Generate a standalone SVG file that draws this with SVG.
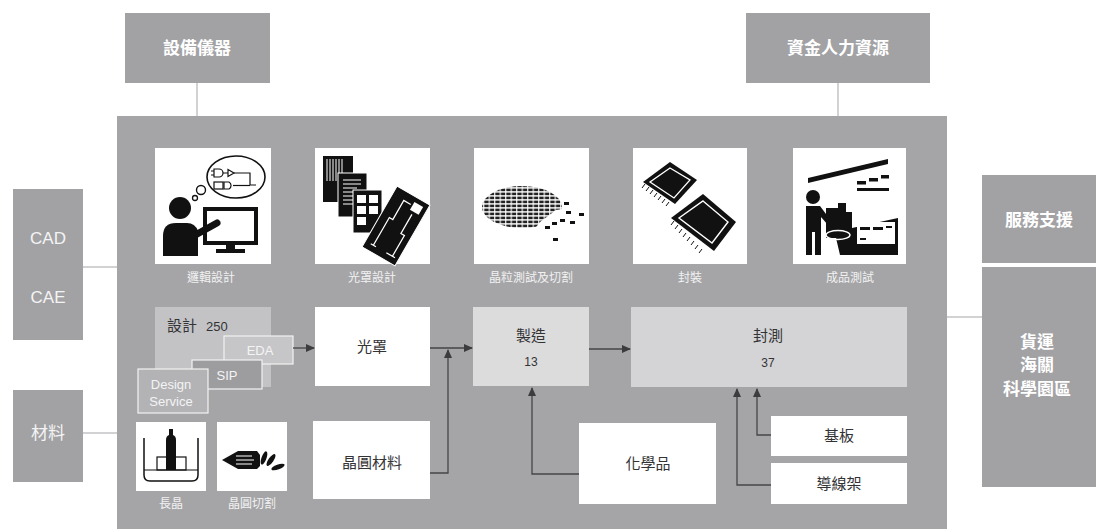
<svg xmlns="http://www.w3.org/2000/svg" width="1096" height="529" viewBox="0 0 1096 529">
  <style>
    .outer { fill: #a2a2a5; }
    .panel { fill: #a5a5a8; }
    .white { fill: #ffffff; }
    .link { stroke: #d2d2d4; stroke-width: 2; fill: none; }
    .flow { stroke: #454547; stroke-width: 1.3; fill: none; }
    .cjk { font-family: "Noto Sans CJK TC", "Noto Sans", sans-serif; }
    .lat { font-family: "Liberation Sans", Arial, sans-serif; }
    .head { fill: #ffffff; font-size: 17px; font-weight: bold; text-anchor: middle; }
    .side { fill: #f4f4f4; font-size: 17px; text-anchor: middle; }
    .cap { fill: #f2f2f2; font-size: 12px; text-anchor: middle; }
    .lbl { fill: #333335; font-size: 15px; text-anchor: middle; }
    .num { fill: #333335; font-size: 12px; text-anchor: middle; }
    .ink { fill: #111111; }
  </style>
  <defs>
    <marker id="arrow" markerWidth="9" markerHeight="8" refX="8" refY="4" orient="auto" markerUnits="userSpaceOnUse">
      <path d="M0,0 L9,4 L0,8 z" fill="#3c3c3e"/>
    </marker>
    <pattern id="dice" width="5.5" height="4" patternUnits="userSpaceOnUse">
      <rect x="0.3" y="0.6" width="4.4" height="2.6" fill="#222"/>
    </pattern>
    <clipPath id="waferCut">
      <path d="M470,180 H600 V203 L556,210 L540,222 L530,235 H470 Z"/>
    </clipPath>
  </defs>

  <!-- outer resource boxes and their links to the main panel -->
  <g id="links">
    <line class="link" x1="197" y1="83" x2="197" y2="117"/>
    <line class="link" x1="838" y1="83" x2="838" y2="117"/>
    <line class="link" x1="83" y1="267" x2="117" y2="267"/>
    <line class="link" x1="83" y1="433" x2="117" y2="433"/>
    <line class="link" x1="947" y1="317" x2="982" y2="317"/>
  </g>

  <g id="equipment">
    <rect class="outer" x="125" y="13" width="145" height="70"/>
    <text class="cjk head" x="197" y="54">設備儀器</text>
  </g>
  <g id="funding">
    <rect class="outer" x="746" y="13" width="184" height="70"/>
    <text class="cjk head" x="838" y="54">資金人力資源</text>
  </g>
  <g id="cad-cae">
    <rect class="outer" x="13" y="189" width="70" height="151"/>
    <text class="lat side" x="48" y="244">CAD</text>
    <text class="lat side" x="48" y="303">CAE</text>
  </g>
  <g id="materials">
    <rect class="outer" x="13" y="390" width="70" height="92"/>
    <text class="cjk side" x="48" y="439">材料</text>
  </g>
  <g id="services">
    <rect class="outer" x="982" y="175" width="114" height="88"/>
    <text class="cjk head" x="1039" y="226">服務支援</text>
  </g>
  <g id="logistics">
    <rect class="outer" x="982" y="267" width="114" height="220"/>
    <text class="cjk head" x="1037" y="348">貨運</text>
    <text class="cjk head" x="1037" y="371">海關</text>
    <text class="cjk head" x="1037" y="395">科學園區</text>
  </g>

  <!-- main industry panel -->
  <g id="panel">
    <rect class="panel" x="117" y="116" width="830" height="413"/>
  </g>

  <!-- stage icons -->
  <g id="icon-logic">
    <rect class="white" x="155" y="148" width="116" height="116"/>
    <ellipse cx="236" cy="177" rx="29" ry="21" fill="#fff" stroke="#111" stroke-width="1.6"/>
    <circle cx="201" cy="190" r="4.5" fill="#fff" stroke="#111" stroke-width="1.4"/>
    <circle cx="195" cy="198" r="2.5" fill="#fff" stroke="#111" stroke-width="1.3"/>
    <g stroke="#111" stroke-width="1.2" fill="none">
      <path d="M214,169 h5 a4,4 0 0 1 0,8 h-5 z"/>
      <path d="M211,171 h3 M211,175 h3 M223,173 h5"/>
      <path d="M228,169.5 l6,3.5 l-6,3.5 z"/>
      <path d="M234,173 h16 v12 h6"/>
      <rect x="214" y="182" width="9" height="7"/>
      <path d="M224,182 h5 a4,4 0 0 1 0,7 h-5 z"/>
      <path d="M233,185.5 h17"/>
    </g>
    <circle class="ink" cx="180" cy="208" r="11"/>
    <path class="ink" d="M163,256 V236 Q163,223 176,223 H187 Q195,223 198,231 L198,256 Z"/>
    <line x1="190" y1="238" x2="217" y2="223" stroke="#111" stroke-width="7" stroke-linecap="round"/>
    <rect x="205" y="209" width="51" height="34" fill="none" stroke="#111" stroke-width="4"/>
    <rect class="ink" x="226" y="244" width="9" height="6"/>
    <rect class="ink" x="216" y="249" width="29" height="4"/>
    <text class="cjk cap" x="211" y="282">邏輯設計</text>
  </g>

  <g id="icon-mask">
    <rect class="white" x="315" y="148" width="115" height="116"/>
    <rect class="ink" x="323" y="156" width="30" height="46"/>
    <g stroke="#fff" stroke-width="1">
      <path d="M327,159 v22 M330,159 v22 M333,159 v22 M336,159 v22 M339,159 v22 M342,159 v22"/>
    </g>
    <rect class="ink" x="338" y="173" width="29" height="44" stroke="#fff" stroke-width="1"/>
    <g stroke="#fff" stroke-width="1">
      <path d="M343,180 h18 M343,184 h18 M343,188 h14 M343,192 h18 M343,196 h12 M343,200 h18 M343,204 h10"/>
    </g>
    <rect class="ink" x="353" y="190" width="29" height="43" stroke="#fff" stroke-width="1"/>
    <g fill="#fff">
      <rect x="357" y="195" width="9" height="8"/>
      <rect x="369" y="195" width="9" height="8"/>
      <rect x="357" y="206" width="9" height="8"/>
      <rect x="369" y="206" width="9" height="8"/>
      <rect x="357" y="217" width="9" height="8"/>
    </g>
    <g transform="rotate(30 396 226)">
      <rect class="ink" x="377" y="191" width="38" height="70" stroke="#fff" stroke-width="1"/>
      <rect x="400" y="196" width="10" height="9" fill="#fff"/>
      <path d="M398,200 H390 V222 H386 V254 M404,208 V230 H408 V254" stroke="#fff" stroke-width="1.3" fill="none"/>
      <path d="M383,254 h6 M401,254 h10" stroke="#fff" stroke-width="1.3"/>
    </g>
    <text class="cjk cap" x="372" y="282">光罩設計</text>
  </g>

  <g id="icon-wafer">
    <rect class="white" x="474" y="148" width="115" height="116"/>
    <ellipse cx="522" cy="207" rx="40" ry="21" fill="url(#dice)" clip-path="url(#waferCut)"/>
    <g class="ink">
      <rect x="564" y="202" width="5" height="3"/>
      <rect x="579" y="213" width="5" height="3"/>
      <rect x="566" y="211" width="5" height="3"/>
      <rect x="560" y="219" width="5" height="3"/>
      <rect x="552" y="222" width="5" height="3"/>
      <rect x="570" y="221" width="5" height="3"/>
      <rect x="553" y="238" width="5" height="3"/>
      <rect x="545" y="226" width="5" height="3"/>
    </g>
    <text class="cjk cap" x="531" y="282">晶粒測試及切割</text>
  </g>

  <g id="icon-package">
    <rect class="white" x="633" y="148" width="114" height="116"/>
    <g stroke="#111" stroke-width="1" fill="none">
      <path d="M645,184 l-3,4 M649,187 l-3,4 M653,190 l-3,4 M657,193 l-3,4 M661,196 l-3,4 M665,199 l-3,4 M669,202 l-3,4"/>
      <path d="M674,221 l-3,4 M678,225 l-3,4 M682,229 l-3,4 M686,233 l-3,4 M690,237 l-3,4 M694,241 l-3,4 M698,245 l-3,4 M702,249 l-3,4"/>
    </g>
    <path class="ink" d="M670,162 L697,180 L675,204 L643,182 Z"/>
    <path d="M670,168 L690,180 L674,198 L650,182 Z" fill="none" stroke="#fff" stroke-width="1.3"/>
    <path class="ink" d="M703,194 L736,222 L714,251 L671,218 Z"/>
    <path d="M703,201 L728,222 L712,243 L679,218 Z" fill="none" stroke="#fff" stroke-width="1.4"/>
    <text class="cjk cap" x="690" y="282">封裝</text>
  </g>

  <g id="icon-test">
    <rect class="white" x="793" y="148" width="113" height="116"/>
    <path class="ink" d="M808,178 L888,159 L888,164 L808,183 Z"/>
    <g class="ink">
      <rect x="857" y="181" width="9" height="3.5"/>
      <rect x="869" y="178" width="9" height="3.5"/>
      <rect x="881" y="175" width="8" height="3.5"/>
      <rect x="857" y="188" width="32" height="3"/>
    </g>
    <circle class="ink" cx="813" cy="197" r="7"/>
    <path class="ink" d="M806,206 H820 L832,222 L828,225 L821,217 V255 H815 V232 H812 V255 H806 Z"/>
    <path class="ink" d="M826,208 H838 V203 H846 V212 H852 V228 L898,218 V255 L840,255 L836,238 H826 Z"/>
    <ellipse cx="838" cy="235" rx="12" ry="4.5" fill="none" stroke="#fff" stroke-width="1.4"/>
    <rect x="857" y="222" width="38" height="22" fill="#fff"/>
    <g class="ink">
      <rect x="860" y="227" width="10" height="3"/>
      <rect x="873" y="227" width="10" height="3"/>
      <rect x="886" y="226" width="6" height="2"/>
      <rect x="860" y="238" width="6" height="2"/>
    </g>
    <text class="cjk cap" x="850" y="282">成品測試</text>
  </g>

  <!-- design cluster -->
  <g id="design">
    <rect x="155" y="307" width="116" height="80" fill="#c3c3c6"/>
    <text class="cjk" x="167" y="331" font-size="15" fill="#333335">設計</text>
    <text class="lat" x="206" y="331" font-size="13" fill="#333335">250</text>
  </g>
  <g id="eda">
    <rect x="224" y="336" width="69" height="28" fill="#c6c6c8" stroke="#f2f2f2" stroke-width="1.2"/>
    <text class="lat" x="260" y="355" font-size="13" fill="#f4f4f4" text-anchor="middle">EDA</text>
  </g>
  <g id="sip">
    <rect x="192" y="360" width="70" height="29" fill="#9d9da0" stroke="#f2f2f2" stroke-width="1.2"/>
    <text class="lat" x="227" y="380" font-size="13" fill="#f4f4f4" text-anchor="middle">SIP</text>
  </g>
  <g id="design-service">
    <rect x="138" y="369" width="70" height="44" fill="#b3b3b6" stroke="#f2f2f2" stroke-width="1.2"/>
    <text class="lat" x="171" y="389" font-size="13" fill="#f4f4f4" text-anchor="middle">Design</text>
    <text class="lat" x="171" y="406" font-size="13" fill="#f4f4f4" text-anchor="middle">Service</text>
  </g>

  <g id="photomask">
    <rect class="white" x="315" y="307" width="115" height="79"/>
    <text class="cjk lbl" x="372" y="352">光罩</text>
  </g>
  <g id="fab">
    <rect x="473" y="307" width="116" height="79" fill="#dcdcdd"/>
    <text class="cjk lbl" x="531" y="341">製造</text>
    <text class="lat num" x="531" y="366">13</text>
  </g>
  <g id="assembly-test">
    <rect x="631" y="307" width="276" height="80" fill="#d4d4d6"/>
    <text class="cjk lbl" x="768" y="341">封測</text>
    <text class="lat num" x="768" y="367">37</text>
  </g>

  <g id="crystal-growth">
    <rect class="white" x="136" y="422" width="70" height="69"/>
    <path d="M144,438 V475 Q144,481 150,481 H192 Q198,481 198,475 V438" fill="none" stroke="#111" stroke-width="1.5"/>
    <line x1="144" y1="470" x2="198" y2="470" stroke="#111" stroke-width="1.2"/>
    <rect x="157" y="457" width="29" height="13" fill="none" stroke="#111" stroke-width="1.2"/>
    <path class="ink" d="M166,470 V440 Q166,436 169,435 V429 H173 V435 Q176,436 176,440 V470 Z"/>
    <text class="cjk cap" x="171" y="508">長晶</text>
  </g>
  <g id="wafer-slicing">
    <rect class="white" x="217" y="422" width="70" height="69"/>
    <path class="ink" d="M222,460 L238,451 H257 L260,455 V466 L257,469 H238 Z"/>
    <path d="M236,456 H252 M236,460 H254 M236,464 H252" stroke="#fff" stroke-width="1.2"/>
    <ellipse class="ink" cx="264" cy="458" rx="2.5" ry="7" transform="rotate(20 264 458)"/>
    <ellipse class="ink" cx="271" cy="460" rx="2.5" ry="7" transform="rotate(35 271 460)"/>
    <ellipse class="ink" cx="278" cy="467" rx="2.5" ry="7" transform="rotate(70 278 467)"/>
    <text class="cjk cap" x="252" y="508">晶圓切割</text>
  </g>

  <g id="wafer-material">
    <rect class="white" x="313" y="421" width="117" height="78"/>
    <text class="cjk lbl" x="372" y="468">晶圓材料</text>
  </g>
  <g id="chemicals">
    <rect class="white" x="579" y="423" width="137" height="81"/>
    <text class="cjk lbl" x="648" y="469">化學品</text>
  </g>
  <g id="substrate">
    <rect class="white" x="771" y="416" width="136" height="40"/>
    <text class="cjk lbl" x="839" y="441">基板</text>
  </g>
  <g id="leadframe">
    <rect class="white" x="771" y="463" width="136" height="41"/>
    <text class="cjk lbl" x="839" y="489">導線架</text>
  </g>

  <!-- process flow connectors -->
  <g id="connectors">
    <path class="flow" d="M293,348 H314" marker-end="url(#arrow)"/>
    <path class="flow" d="M430,348 H472" marker-end="url(#arrow)"/>
    <path class="flow" d="M430,473 H448 V350" marker-end="url(#arrow)"/>
    <path class="flow" d="M589,349 H630" marker-end="url(#arrow)"/>
    <path class="flow" d="M579,474 H532 V388" marker-end="url(#arrow)"/>
    <path class="flow" d="M771,485 H737 V389" marker-end="url(#arrow)"/>
    <path class="flow" d="M771,435 H757 V389" marker-end="url(#arrow)"/>
  </g>
</svg>
